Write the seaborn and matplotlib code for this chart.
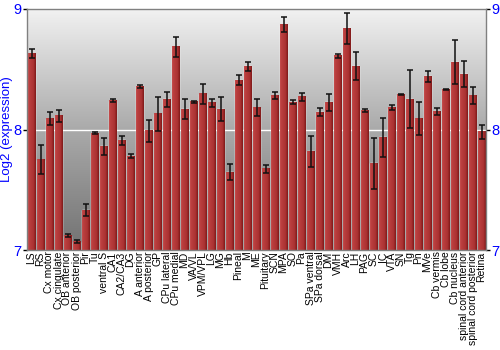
import numpy as np
import pandas as pd
import matplotlib
matplotlib.use("Agg")
import matplotlib.pyplot as plt
import seaborn as sns
from matplotlib.colors import LinearSegmentedColormap

regions = ["LS", "RS", "Cx motor", "Cx cingulate", "OB anterior", "OB posterior", "Pir", "Tu",
           "ventral S", "CA1", "CA2/CA3", "DG", "A anterior", "A posterior", "GP", "CPu lateral",
           "CPu medial", "MD", "VA/VL", "VPM/VPL", "LG", "MG", "Hb", "Pineal", "M", "ME",
           "Pituitary", "SCN", "MPA", "SO", "Pa", "SPa ventral", "SPa dorsal", "DM", "VMH", "Arc",
           "LH", "PAG", "SC", "IC", "VTA", "SN", "Tg", "Pn", "MVe", "Cb vermis", "Cb lobe",
           "Cb nucleus", "spinal cord anterior", "spinal cord posterior", "Retina"]
expression = [8.63, 7.75, 8.09, 8.115, 7.12, 7.07, 7.33, 7.97,
              7.86, 8.24, 7.91, 7.78, 8.36, 7.99, 8.13, 8.25,
              8.685, 8.17, 8.23, 8.295, 8.22, 8.17, 7.645, 8.41, 8.525, 8.18,
              7.675, 8.28, 8.87, 8.225, 8.27, 7.82, 8.145, 8.225, 8.61, 8.84,
              8.525, 8.16, 7.72, 7.935, 8.18, 8.29, 8.25, 8.09, 8.44, 8.15, 8.33,
              8.56, 8.46, 8.28, 7.98]
error = [0.04, 0.12, 0.055, 0.05, 0.015, 0.01, 0.05, 0.01,
         0.07, 0.015, 0.035, 0.015, 0.012, 0.09, 0.14, 0.06,
         0.083, 0.08, 0.01, 0.083, 0.03, 0.1, 0.065, 0.04, 0.037, 0.07,
         0.032, 0.03, 0.064, 0.017, 0.037, 0.13, 0.037, 0.07, 0.02, 0.13,
         0.115, 0.014, 0.21, 0.16, 0.02, 0.006, 0.24, 0.135, 0.043, 0.028, 0.006,
         0.185, 0.108, 0.07, 0.06]
y_ticks = [7, 8, 9]

df = pd.DataFrame({"region": regions, "expression": expression, "error": error})

sns.set_style("white")
plt.rcParams["font.family"] = ["Liberation Sans", "DejaVu Sans"]
fig = plt.figure(figsize=(5, 3.5), dpi=100)
ax = fig.add_axes([0.054, 0.2857, 0.918, 0.6886])

# background gradient
bg = LinearSegmentedColormap.from_list("bg", ["#727272", "#aaaaaa", "#f2f2f2"])
grad = np.linspace(0, 1, 256).reshape(-1, 1)
ax.imshow(grad, cmap=bg, aspect="auto", extent=[0, 1, 0, 1], origin="lower",
          transform=ax.transAxes, zorder=0)

sns.barplot(data=df, x="region", y="expression", color="#b03030", width=0.88,
            ax=ax, zorder=2, saturation=1, errorbar=None)

ymin = y_ticks[0]
# horizontal gradient on bars
barcm = LinearSegmentedColormap.from_list(
    "bar", [(0, "#c85050"), (0.15, "#bb4040"), (0.7, "#ab3232"), (1, "#7e1818")])
hgrad = np.linspace(0, 1, 64).reshape(1, -1)
for p in list(ax.patches):
    x0, w = p.get_x(), p.get_width()
    h = p.get_height()
    ax.imshow(hgrad, cmap=barcm, aspect="auto", extent=[x0, x0 + w, ymin, h],
              origin="lower", zorder=2.5, interpolation="bilinear")

ax.errorbar(np.arange(len(regions)), df["expression"], yerr=df["error"], fmt="none",
            ecolor="#111111", elinewidth=1.1, capsize=2.2, capthick=1.1, zorder=4)

ax.axhline(8, color="white", lw=1.0, zorder=1)

ax.set_xlim(-0.5, len(regions) - 0.5)
ax.set_ylim(7, 9)
ax.set_yticks(y_ticks)
ax.set_yticklabels([str(t) for t in y_ticks])
ax.tick_params(axis="y", which="both", left=True, right=True, labelleft=True, labelright=True,
               length=3, width=1, color="black", labelcolor="#0000ff", labelsize=10.5, pad=1)
ax.tick_params(axis="x", length=0, labelsize=7.5, pad=1, labelcolor="black")
plt.setp(ax.get_xticklabels(), rotation=90)
ax.set_xlabel("")
ax.set_ylabel("Log2 (expression)", color="#0000ff", fontsize=9.5)
ax.yaxis.label.set_horizontalalignment("center")
ax.yaxis.label.set_verticalalignment("center")
ax.yaxis.set_label_coords(-0.043, 0.5)
for s in ax.spines.values():
    s.set_visible(True)
    s.set_color("#808080")
    s.set_linewidth(1)

fig.savefig("out.png", dpi=100)
